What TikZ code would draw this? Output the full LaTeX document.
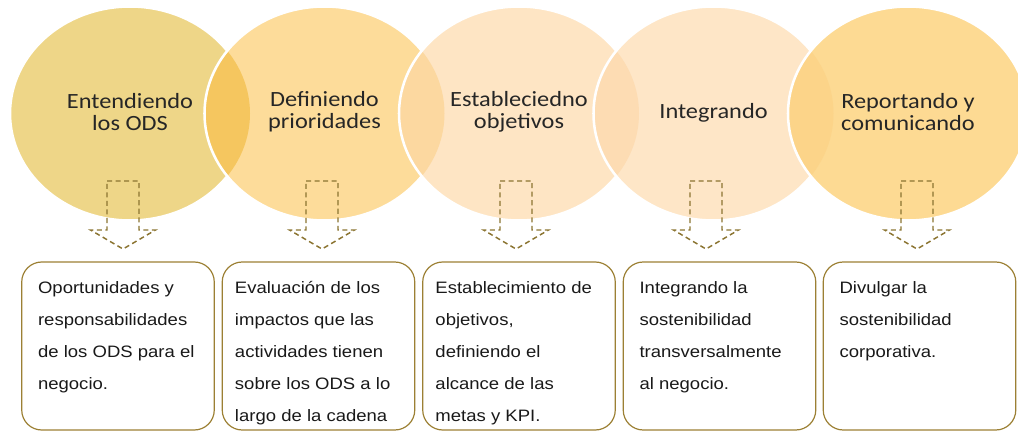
\documentclass[tikz,border=0pt]{standalone}
\usepackage{fontspec}
\setmainfont{Liberation Sans}[FakeStretch=1.12]
\newfontfamily\ringfont{Carlito}[FakeStretch=1.12]
\usepackage{tikz}
\usepackage{xcolor}
\definecolor{ringA}{HTML}{EED688}
\definecolor{ringB}{HTML}{FDDC9A}
\definecolor{ringC}{HTML}{FEE5C4}
\definecolor{ringD}{HTML}{FEE6C7}
\definecolor{ringE}{HTML}{FDDA93}
\definecolor{lensAB}{HTML}{F5C65F}
\definecolor{lensBC}{HTML}{FCD8A0}
\definecolor{lensCD}{HTML}{FDDCB3}
\definecolor{lensDE}{HTML}{FCD489}
\definecolor{dropink}{HTML}{8B7431}
\definecolor{boxink}{HTML}{9C8034}
\definecolor{ringtextink}{HTML}{262626}
\tikzset{
  ringsize/.style={x radius=90pt, y radius=80.25pt},
  ringline/.style={draw=white, line width=1.9pt},
  ringtext/.style={font=\ringfont\fontsize{16.3}{16.5}\selectfont, text=ringtextink, align=center, inner sep=0},
  dropline/.style={draw=dropink, line width=1.1pt, dash pattern=on 3.8pt off 2.6pt},
  notebox/.style={draw=boxink, line width=0.9pt, rounded corners=15pt, minimum width=144.4pt, minimum height=126pt},
  notetext/.style={font=\fontsize{12.4}{24}\selectfont, text=black!90, align=left, inner sep=0, anchor=north west}
}

\begin{document}
\begin{tikzpicture}[x=0.75pt, y=-0.75pt]
  \useasboundingbox (0,0) rectangle (1018,431);
  \clip (0,0) rectangle (1018,431);
  % rings
  \fill[ringA] (130,113.5) ellipse [ringsize];
  \draw[ringline] (130,113.5) ellipse [ringsize];
  \foreach \px/\cx/\rc/\lc in {130/324.5/ringB/lensAB, 324.5/519/ringC/lensBC, 519/713.5/ringD/lensCD, 713.5/908/ringE/lensDE} {
    \fill[\rc] (\cx,113.5) ellipse [ringsize];
    \begin{scope}
      \clip (\px,113.5) ellipse [ringsize];
      \fill[\lc] (\cx,113.5) ellipse [ringsize];
    \end{scope}
    \draw[ringline] (\cx,113.5) ellipse [ringsize];
  }
  \node[ringtext] (r1) at (130,112) {Entendiendo\\los ODS};
  \node[ringtext] (r2) at (324.5,112) {Definiendo\\prioridades};
  \node[ringtext] (r3) at (519,112) {Estableciedno\\objetivos};
  \node[ringtext] (r4) at (713.5,113) {Integrando};
  \node[ringtext] (r5) at (908,112) {Reportando y\\comunicando};
  % dashed arrows
  \foreach \ax in {123,322,516,706,917}
    \draw[dropline] (\ax-16,181) -- (\ax+16,181) -- (\ax+16,230) -- (\ax+32.5,230)
      -- (\ax,249) -- (\ax-32.5,230) -- (\ax-16,230) -- cycle;
  % boxes
  \node[notebox] (n1) at (118,346) {};
  \node[notebox] (n2) at (318.5,346) {};
  \node[notebox] (n3) at (519,346) {};
  \node[notebox] (n4) at (719.5,346) {};
  \node[notebox] (n5) at (919.5,346) {};
  \node[notetext] (t1) at ([xshift=12.5pt,yshift=-14.6pt]n1.north west) {Oportunidades y\\responsabilidades\\de los ODS para el\\negocio.};
  \node[notetext] (t2) at ([xshift=9.8pt,yshift=-14.6pt]n2.north west) {Evaluación de los\\impactos que las\\actividades tienen\\sobre los ODS a lo\\largo de la cadena};
  \node[notetext] (t3) at ([xshift=9.8pt,yshift=-14.6pt]n3.north west) {Establecimiento de\\objetivos,\\definiendo el\\alcance de las\\metas y KPI.};
  \node[notetext] (t4) at ([xshift=12.5pt,yshift=-14.6pt]n4.north west) {Integrando la\\sostenibilidad\\transversalmente\\al negocio.};
  \node[notetext] (t5) at ([xshift=12.5pt,yshift=-14.6pt]n5.north west) {Divulgar la\\sostenibilidad\\corporativa.};
\end{tikzpicture}
\end{document}
